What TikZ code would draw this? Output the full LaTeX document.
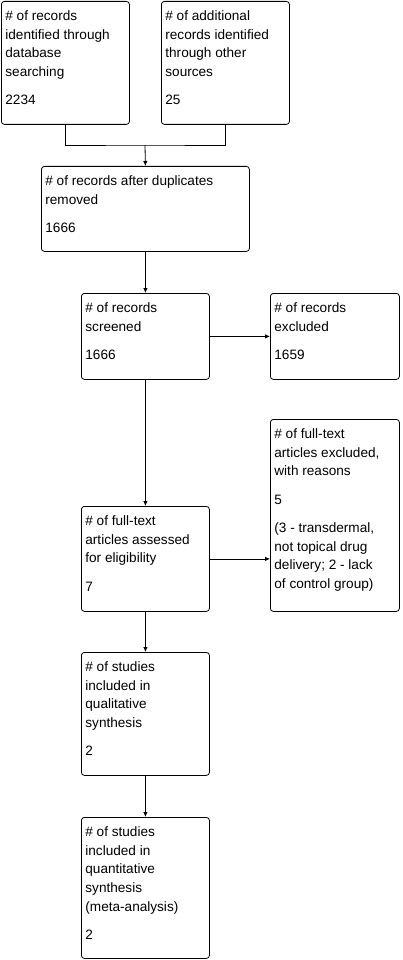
\documentclass[tikz,border=0pt]{standalone}
\usepackage{fontspec}
\setmainfont{Liberation Sans}
\usetikzlibrary{arrows.meta}
\newcommand{\boxtxt}[3]{\parbox[c][#2][t]{#1}{\raggedright\strut #3}}

\begin{document}
\begin{tikzpicture}[x=1pt,y=1pt,yscale=-1,xscale=1,
  prismabox/.style={draw, rounded corners=3pt, line width=0.8pt, anchor=north west,
    inner xsep=4pt, inner ysep=6pt, font=\fontsize{13.6}{18.7}\selectfont},
  flow/.style={line width=0.8pt, -{Latex[length=5pt,width=4.5pt]}}]
\useasboundingbox (0,0) rectangle (402,960);

%Shape: Rectangle [identification]
\node[prismabox] (dbsearch) at (1,1) {\boxtxt{120pt}{111pt}{\# of records\\identified through\\database\\searching\\[9.6pt]2234}};
%Shape: Rectangle [identification, other]
\node[prismabox] (othersrc) at (161,1) {\boxtxt{120pt}{111pt}{\# of additional\\records identified\\through other\\sources\\[9.6pt]25}};
%Shape: Rectangle [duplicates]
\node[prismabox] (dedup) at (41,166) {\boxtxt{200pt}{73pt}{\# of records after duplicates\\removed\\[9.6pt]1666}};
%Shape: Rectangle [screening]
\node[prismabox] (screened) at (81,293) {\boxtxt{120pt}{74pt}{\# of records\\screened\\[9.6pt]1666}};
%Shape: Rectangle [screening, excluded]
\node[prismabox] (excluded) at (270,293) {\boxtxt{121pt}{74pt}{\# of records\\excluded\\[9.6pt]1659}};
%Shape: Rectangle [eligibility]
\node[prismabox] (fulltext) at (81,506) {\boxtxt{120pt}{93pt}{\# of full-text\\articles assessed\\for eligibility\\[9.6pt]7}};
%Shape: Rectangle [eligibility, excluded]
\node[prismabox] (ftexcluded) at (270,419) {\boxtxt{121pt}{180pt}{\# of full-text\\articles excluded,\\with reasons\\[9.6pt]5\\[9.6pt](3 - transdermal,\\not topical drug\\delivery; 2 - lack\\of control group)}};
%Shape: Rectangle [included, qualitative]
\node[prismabox] (qualit) at (81,652) {\boxtxt{120pt}{111pt}{\# of studies\\included in\\qualitative\\synthesis\\[9.6pt]2}};
%Shape: Rectangle [included, quantitative]
\node[prismabox] (quantit) at (81,817) {\boxtxt{120pt}{129pt}{\# of studies\\included in\\quantitative\\synthesis\\(meta-analysis)\\[9.6pt]2}};

%Straight Lines
\coordinate (merge) at (145,145);
\draw[line width=0.8pt] (dbsearch.south) |- (merge) -| (othersrc.south);
\draw[flow] (merge) -- (dedup.north);
\draw[flow] (dedup.south) -- (screened.north);
\draw[flow] (screened.east) -- (excluded.west);
\draw[flow] (screened.south) -- (fulltext.north);
\draw[flow] (fulltext.east) -- (fulltext.east -| ftexcluded.west);
\draw[flow] (fulltext.south) -- (qualit.north);
\draw[flow] (qualit.south) -- (quantit.north);

\end{tikzpicture}
\end{document}
